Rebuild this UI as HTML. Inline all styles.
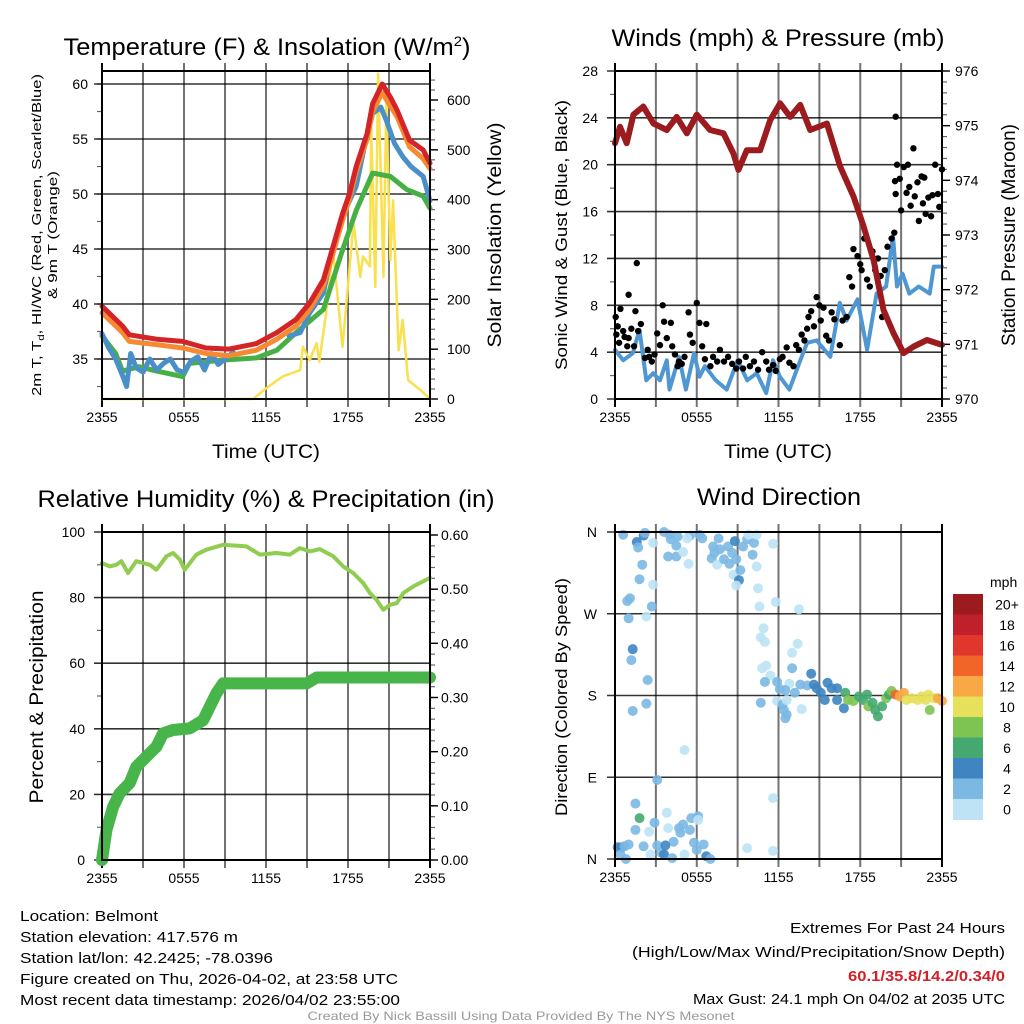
<!DOCTYPE html>
<html><head><meta charset="utf-8"><style>
html,body{margin:0;padding:0;background:#fff;}
svg{display:block;font-family:"Liberation Sans",sans-serif;}
</style></head><body>
<svg id="chart" width="1024" height="1024" viewBox="0 0 1024 1024" xmlns="http://www.w3.org/2000/svg">
<g id="texts">
<text x="267" y="55" font-size="24" text-anchor="middle" textLength="407" lengthAdjust="spacingAndGlyphs">Temperature (F) &amp; Insolation (W/m<tspan dy="-9" font-size="14">2</tspan><tspan dy="9">)</tspan></text>
<text x="778" y="46" font-size="24" text-anchor="middle" textLength="333" lengthAdjust="spacingAndGlyphs">Winds (mph) &amp; Pressure (mb)</text>
<text x="266" y="507" font-size="24" text-anchor="middle" textLength="457" lengthAdjust="spacingAndGlyphs">Relative Humidity (%) &amp; Precipitation (in)</text>
<text x="779" y="505" font-size="24" text-anchor="middle" textLength="164" lengthAdjust="spacingAndGlyphs">Wind Direction</text>
<text x="266" y="458" font-size="19" text-anchor="middle" textLength="108" lengthAdjust="spacingAndGlyphs">Time (UTC)</text>
<text x="778" y="458" font-size="19" text-anchor="middle" textLength="108" lengthAdjust="spacingAndGlyphs">Time (UTC)</text>
<text transform="translate(41,235) rotate(-90)" font-size="13" text-anchor="middle" textLength="322" lengthAdjust="spacingAndGlyphs">2m T, T<tspan font-size="9" dy="3">d</tspan><tspan dy="-3">, HI/WC (Red, Green, Scarlet/Blue)</tspan></text>
<text transform="translate(57,235) rotate(-90)" font-size="13" text-anchor="middle" textLength="128" lengthAdjust="spacingAndGlyphs">&amp; 9m T (Orange)</text>
<text transform="translate(501,235) rotate(-90)" font-size="19" text-anchor="middle" textLength="225" lengthAdjust="spacingAndGlyphs">Solar Insolation (Yellow)</text>
<text transform="translate(567,235) rotate(-90)" font-size="17" text-anchor="middle" textLength="270" lengthAdjust="spacingAndGlyphs">Sonic Wind &amp; Gust (Blue, Black)</text>
<text transform="translate(1015,235) rotate(-90)" font-size="19" text-anchor="middle" textLength="222" lengthAdjust="spacingAndGlyphs">Station Pressure (Maroon)</text>
<text transform="translate(43,697) rotate(-90)" font-size="19" text-anchor="middle" textLength="213" lengthAdjust="spacingAndGlyphs">Percent &amp; Precipitation</text>
<text transform="translate(567,697) rotate(-90)" font-size="17" text-anchor="middle" textLength="238" lengthAdjust="spacingAndGlyphs">Direction (Colored By Speed)</text>
<g font-size="15">
<text x="20" y="921" textLength="138" lengthAdjust="spacingAndGlyphs">Location: Belmont</text>
<text x="20" y="942" textLength="218" lengthAdjust="spacingAndGlyphs">Station elevation: 417.576 m</text>
<text x="20" y="963" textLength="253" lengthAdjust="spacingAndGlyphs">Station lat/lon: 42.2425; -78.0396</text>
<text x="20" y="984" textLength="378" lengthAdjust="spacingAndGlyphs">Figure created on Thu, 2026-04-02, at 23:58 UTC</text>
<text x="20" y="1005" textLength="380" lengthAdjust="spacingAndGlyphs">Most recent data timestamp: 2026/04/02 23:55:00</text>
</g>
<g font-size="15" text-anchor="end">
<text x="1005" y="933" textLength="215" lengthAdjust="spacingAndGlyphs">Extremes For Past 24 Hours</text>
<text x="1005" y="957" textLength="373" lengthAdjust="spacingAndGlyphs">(High/Low/Max Wind/Precipitation/Snow Depth)</text>
<text x="1005" y="981" fill="#d42028" font-weight="bold" textLength="157" lengthAdjust="spacingAndGlyphs">60.1/35.8/14.2/0.34/0</text>
<text x="1005" y="1004" textLength="312" lengthAdjust="spacingAndGlyphs">Max Gust: 24.1 mph On 04/02 at 2035 UTC</text>
</g>
<text x="521" y="1020" font-size="12" fill="#999" text-anchor="middle" textLength="427" lengthAdjust="spacingAndGlyphs">Created By Nick Bassill Using Data Provided By The NYS Mesonet</text>
</g>
</svg>
<script>
// ---------- data ----------
const timeTickLabels = ["2355","0555","1155","1755","2355"];
const tempTicks = [35,40,45,50,55,60];
const solarTicks = [0,100,200,300,400,500,600];
const windTicks = [0,4,8,12,16,20,24,28];
const pressTicks = [970,971,972,973,974,975,976];
const rhTicks = [0,20,40,60,80,100];
const precipTicks = [0,0.1,0.2,0.3,0.4,0.5,0.6];
const dirTicks = [0,90,180,270,360];
const dirTickLabels = ["N","E","S","W","N"];

const tempT = [0,1.5,2,4,5.9,7.6,9.3,11.3,12.8,14.2,15.2,16.2,16.9,17.6,18.1,18.6,19.4,19.8,20.5,21.1,21.6,22.5,23.5,24];
const tempRed = [39.8,38,37.2,36.8,36.6,36,35.9,36.4,37.4,38.6,40.1,42.2,45.2,48.2,50,52.5,55.5,58.2,60,58.8,57.6,54.9,54,52.8];
const tempOrange = [39.2,37.4,36.6,36.3,36,35.5,35.3,35.8,36.8,38,39.5,41.6,44.6,47.6,49.5,52,55,57.5,59.2,58,57,54.3,53.2,52.3];
const dewT = [0,1.0,1.5,2.7,4.0,5.9,6.4,8.8,11.3,12.8,14.2,16.2,17.6,18.6,19.8,21.1,22.3,23.5,24];
const dewGreen = [37.1,35.5,33.9,34.3,33.9,33.4,34.6,34.9,35.1,35.8,37.4,39.5,44.9,48.5,51.9,51.6,50.4,49.8,48.7];
const chillT = [0,0.5,1,1.5,1.8,2.1,2.5,3,3.5,4,4.5,5,5.5,6,6.5,7,7.5,8,8.5,9,9.6,null,13.7,14.5,15.2,16.2,16.9,17.6,18.6,19.3,19.8,20.4,20.8,21.4,22,22.6,23.5,24];
const chillBlue = [37.3,36,35,33.5,32.5,35.5,34.2,33.8,35,34,34.6,35,34,33.8,34.8,35.2,34,35.5,34.5,35,35.6,null,37.1,37.4,39.2,41,45.2,48,50.7,54.9,57.3,57.9,56.7,54.6,53.4,52.5,51.6,49.4];
const solarT = [0,11.05,12.0,13.2,14.5,14.7,15.2,15.7,15.9,16.4,16.9,17.6,18.4,18.9,19.1,19.6,19.7,20.0,20.2,20.6,20.8,21.1,21.3,21.7,22.0,22.4,23.3,24];
const solarW = [0,0,21,45,58,105,78,112,75,172,299,105,352,245,286,266,547,225,653,245,600,279,399,98,159,38,18,0];

const pressT = [0,0.37,0.86,1.35,2.08,2.82,3.8,4.53,5.27,6.0,6.98,7.96,8.69,9.06,9.67,10.65,11.39,12.12,12.86,13.59,14.33,15.55,16.53,17.51,18.25,18.98,19.71,20.45,21.18,21.92,22.9,24];
const pressMb = [974.68,974.98,974.68,975.2,975.35,975.04,974.92,975.16,974.86,975.2,974.92,974.86,974.49,974.19,974.55,974.55,975.1,975.41,975.16,975.38,974.92,975.04,974.25,973.7,973.15,972.54,971.63,971.2,970.84,970.96,971.08,970.99];
const windT = [0,0.6,1.3,1.8,2.3,2.8,3.3,3.8,4.0,4.7,5.2,5.8,6.2,6.6,7.4,8.2,9.0,9.7,10.4,11.1,11.6,12.1,12.8,13.6,14.1,14.8,15.8,16.5,17.0,17.8,18.5,19.2,19.9,20.4,20.7,21.1,21.6,22.3,23.1,23.4,24];
const windSpd = [4.2,3.3,3.9,5.9,1.6,2.2,1.6,3.3,0.8,3.6,0.8,3.9,1.9,2.8,1.6,0.8,3.3,1.6,2.2,0.5,3.3,1.9,0.8,3.3,4.8,5.0,3.6,8.2,6.7,8.5,4.2,9.0,9.6,13.9,9.6,10.7,9.0,9.6,9.0,11.3,11.3];
const gustT = [0.05,0.1,0.2,0.3,0.4,0.6,0.7,0.9,1.0,1.0,1.2,1.4,1.5,1.6,1.7,1.9,2.2,2.4,2.5,2.7,2.9,3.1,3.3,3.5,3.6,3.8,4.1,4.2,4.4,4.6,4.7,4.9,5.1,5.4,5.5,5.7,6.0,6.2,6.4,6.6,6.7,7.0,7.2,7.5,7.7,8.0,8.3,8.6,8.9,9.1,9.4,9.6,9.9,10.2,10.5,10.8,11.1,11.3,11.6,11.8,12.1,12.3,12.6,12.8,13.1,13.3,13.5,13.7,13.9,14.1,14.2,14.4,14.6,14.8,15.0,15.1,15.3,15.5,15.7,15.9,16.1,16.5,16.7,17.0,17.2,17.4,17.5,17.8,18.0,18.1,18.3,18.5,18.7,18.9,19.1,19.3,19.5,19.6,19.8,20.0,20.3,20.5,20.6,20.55,20.6,20.7,20.9,21.0,21.2,21.4,21.5,21.6,21.7,21.9,22.0,22.2,22.3,22.5,22.6,22.7,22.8,23.0,23.2,23.3,23.5,23.7,23.8,24.0];
const gustSpd = [7,5.5,6.2,4.8,7.7,5.8,5.3,4.5,5.2,8.9,6.0,4.5,7.5,11.6,5.8,6.4,3.5,4.2,3.6,3.2,3.8,5.6,4.6,8.0,6.6,5.2,6.5,4.5,3.8,2.8,3.2,3.0,3.6,7.4,5.5,4.8,8.2,6.5,4.5,3.4,6.4,2.8,3.6,3.2,4.2,3.2,3.6,3.0,2.6,3.2,2.6,3.6,2.8,3.2,2.5,4.0,3.2,2.5,2.9,2.4,3.4,3.6,4.4,3.1,2.8,4.6,4.2,5.5,5.0,6.0,7.0,7.5,6.2,8.7,8.0,6.7,7.8,5.4,5.0,7.4,6.8,4.6,6.7,7.0,10.4,9.6,12.8,12.2,11.5,11.0,13.7,10.2,9.6,12.6,11.0,12.0,10.5,7.0,11.0,13.0,13.7,14.2,24.1,18.6,17.5,20.0,18.8,16.1,19.8,17.6,20.0,18.1,16.5,21.4,17.3,18.5,15.2,19.0,16.7,18.9,15.8,17.2,15.6,17.4,20.0,17.5,16.4,19.6];

const rhT = [0,0.56,1.05,1.42,1.9,2.51,3.49,3.98,4.35,4.71,5.2,5.69,6.05,6.91,7.64,8.86,10.57,11.55,12.77,13.75,14.48,15.21,15.94,16.92,17.65,18.38,19.12,19.6,20.09,20.58,21.07,21.56,22.05,22.78,24];
const rhPct = [90.5,89.5,90.0,91.1,87.5,91.1,90.0,88.5,90.5,92.6,93.6,91.6,88.5,93.1,94.6,96.1,95.6,93.1,93.6,93.1,95.1,94.1,94.8,92.6,89.5,87.5,84.4,81.4,79.3,76.3,77.8,78.3,81.4,83.4,86];
const precipT = [0,0.32,0.81,1.29,2.03,2.51,3.49,3.98,4.47,5.2,6.42,7.4,7.89,8.37,8.86,14.97,15.7,24];
const precipIn = [0,0.055,0.098,0.123,0.142,0.172,0.197,0.209,0.234,0.24,0.243,0.258,0.283,0.308,0.326,0.326,0.337,0.337];

const dirT = [0.6,1.6,1.7,2.1,2.2,2.8,2.0,1.8,2.8,0.9,1.1,1.0,2.7,2.3,1.3,1.2,2.4,2.3,1.3,3.6,4.0,4.1,4.5,4.6,3.9,4.5,5.0,5.4,5.5,5.3,6.2,6.4,7.2,7.6,7.3,7.7,7.1,7.5,8.0,8.3,8.6,8.8,8.4,8.9,8.7,9.2,9.1,8.9,9.4,9.7,9.8,10.2,10.1,10.4,10.4,10.5,11.6,10.6,11.8,13.5,
10.9,10.7,11.0,13.4,13.0,10.8,11.1,11.4,11.0,11.9,13.0,12.8,12.1,12.5,13.2,13.6,14.1,14.4,10.7,11.9,12.3,12.6,12.4,12.6,12.5,13.7,
14.6,14.8,15.1,15.4,15.6,15.9,16.3,16.3,16.8,16.9,17.1,17.5,17.9,18.2,18.5,18.6,18.9,19.1,19.3,19.6,19.9,20.1,20.3,20.6,20.9,21.2,21.4,21.8,22.2,22.5,22.8,23.0,23.1,23.4,23.7,24.0,
3.1,5.1,11.6,1.5,1.8,1.5,2.5,2.9,3.8,3.9,4.3,4.8,5.0,4.7,5.6,5.5,5.8,6.1,6.1,6.5,6.7,7.0,6.0,0.2,0.5,0.7,0.4,0.8,2.1,3.1,3.4,3.6,3.7,4.2,5.1,9.7,11.6,2.6,1.0];
const dirDeg = [357,349,343,356,359,348,324,308,302,284,287,265,278,267,231,219,197,171,163,360,357,352,345,355,333,333,338,325,356,353,357,353,344,353,337,341,331,324,330,344,337,350,325,330,313,318,307,301,344,352,357,348,335,357,322,298,347,278,283,275,
254,244,239,237,227,210,213,202,195,195,210,193,187,186,183,192,191,204,172,174,170,175,164,159,155,165,
192,188,183,175,194,188,188,175,166,183,175,174,179,175,181,168,172,164,157,168,177,181,185,181,179,183,175,177,175,179,175,181,164,177,177,174,
87,120,67,61,45,32,30,40,51,34,19,29,38,34,45,32,18,47,43,16,3,0,10,13,13,14,5,0,14,15,7,5,15,1,5,12,9,5,16];
const dirSpd = [3,5,3,5,3,1,3,3,1,3,3,3,3,1,5,3,3,3,3,3,3,3,3,3,3,3,1,1,3,1,3,3,3,3,3,3,3,1,3,3,3,5,3,3,1,3,5,1,3,3,1,3,3,1,1,1,1,1,1,1,
1,1,1,1,1,1,1,1,3,3,3,1,3,3,3,3,3,5,3,1,3,1,3,3,3,1,
5,5,5,5,5,5,5,5,5,7,9,9,7,7,7,9,7,7,7,7,9,7,9,15,13,13,11,11,11,11,11,11,9,11,13,13,
3,1,1,3,7,3,1,3,1,1,3,3,3,3,3,3,3,3,1,3,5,3,3,5,5,3,3,3,3,3,3,5,5,3,1,1,1,1,3];

const speedLabels = ["20+","18","16","14","12","10","8","6","4","2","0"];
const speedColors = ["#9b1b1e","#c0202a","#e0362b","#f26529","#f8a845","#e6e05a","#7dc453","#44a870","#3e85c2","#7bb8e3","#bde3f5"];

// ---------- helpers ----------
const NS = "http://www.w3.org/2000/svg";
const svg = document.getElementById("chart");
function el(tag, attrs, parent) {
  const e = document.createElementNS(NS, tag);
  for (const k in attrs) e.setAttribute(k, attrs[k]);
  (parent || svg).appendChild(e);
  return e;
}
function lin(d0, d1, r0, r1) { return v => r0 + (v - d0) / (d1 - d0) * (r1 - r0); }
function pathFrom(xs, ys, sx, sy) {
  let d = "", pen = false;
  for (let i = 0; i < xs.length; i++) {
    if (xs[i] === null || ys[i] === null) { pen = false; continue; }
    d += (pen ? "L" : "M") + sx(xs[i]).toFixed(1) + "," + sy(ys[i]).toFixed(1);
    pen = true;
  }
  return d;
}

function panel(name, L, R, T, B) {
  const g = el("g", {});
  
  
  const sx = lin(0, 24, L, R);
  for (let h = 0; h <= 24; h += 3) {
    const ln = el("line", {x1: sx(h), x2: sx(h), y1: T - 8, y2: B + 8, stroke: "#000", "stroke-opacity": h % 24 === 0 ? 1 : 0.55, "stroke-width": 2}, g);
    
    
  }
  for (let i = 0; i < timeTickLabels.length; i++) {
    const t = el("text", {x: sx(i * 6), y: B + 23, "font-size": 14, "text-anchor": "middle"}, g);
    
    
    t.textContent = timeTickLabels[i];
  }
  return {g, sx};
}
function hgrid(g, ticks, sy, L, R, labels, lx, anchor) {
  ticks.forEach((v, i) => {
    const ln = el("line", {x1: L - 8, x2: R, y1: sy(v), y2: sy(v), stroke: "#000", "stroke-opacity": 0.8, "stroke-width": 1.6}, g);
    
    
    const t = el("text", {x: lx, y: sy(v) + 5, "font-size": 14, "text-anchor": anchor}, g);
    
    
    t.textContent = labels ? labels[i] : v;
  });
}
function minorTicks(g, from, to, step, sy, x, dir, len) {
  for (let v = from; v <= to + 1e-9; v += step) {
    const ln = el("line", {x1: x, x2: x + dir * len, y1: sy(v), y2: sy(v), stroke: "#000", "stroke-opacity": 0.6, "stroke-width": 1.2}, g);
    
    
  }
}
function rightAxis(g, ticks, sy, R, fmt, lx) {
  ticks.forEach(v => {
    const ln = el("line", {x1: R, x2: R + 8, y1: sy(v), y2: sy(v), stroke: "#000", "stroke-width": 1.4}, g);
    
    
    const t = el("text", {x: lx, y: sy(v) + 5, "font-size": 14}, g);
    
    
    t.textContent = fmt(v);
  });
}
function frame(g, L, R, T, B) {
  const f = el("rect", {x: L, y: T, width: R - L, height: B - T, fill: "none", stroke: "#000", "stroke-width": 2}, g);
  
  
}
function line(g, name, xs, ys, sx, sy, color, w) {
  const p = el("path", {d: pathFrom(xs, ys, sx, sy), fill: "none", stroke: color, "stroke-width": w, "stroke-linejoin": "round", "stroke-linecap": "round"}, g);
  
  
}

// ---------- Panel 1: temperature ----------
{
  const L = 102, R = 430, T = 71, B = 399;
  const {g, sx} = panel("temperature-panel", L, R, T, B);
  const sy = lin(35, 60, 359, 84);
  const sw = lin(0, 600, 399, 100);
  minorTicks(g, 32.5, 60, 2.5, sy, L, -1, 5);
  hgrid(g, tempTicks, sy, L, R, null, 88, "end");
  minorTicks(g, 0, 640, 20, sw, R, 1, 5);
  rightAxis(g, solarTicks, sw, R, v => v, 447);
  line(g, "solar-insolation-line", solarT, solarW, sx, sw, "#f8e04e", 2.5);
  line(g, "dewpoint-line", dewT, dewGreen, sx, sy, "#47b045", 5);
  line(g, "windchill-line", chillT, chillBlue, sx, sy, "#4a90c8", 5);
  line(g, "temp-9m-line", tempT, tempOrange, sx, sy, "#f58a33", 5);
  line(g, "temp-2m-line", tempT, tempRed, sx, sy, "#d52428", 5);
  frame(g, L, R, T, B);
}
// ---------- Panel 2: winds ----------
{
  const L = 615, R = 942, T = 71, B = 399;
  const {g, sx} = panel("winds-panel", L, R, T, B);
  const sy = lin(0, 28, 399, 71);
  const sp = lin(970, 976, 399, 71);
  minorTicks(g, 2, 26, 4, sy, L, -1, 5);
  hgrid(g, windTicks, sy, L, R, null, 598, "end");
  minorTicks(g, 970, 976, 0.2, sp, R, 1, 5);
  rightAxis(g, pressTicks, sp, R, v => v, 955);
  line(g, "sonic-wind-line", windT, windSpd, sx, sy, "#4f97d2", 4);
  const dg = el("g", {}, g);
  
  
  gustT.forEach((t, i) => {
    const c = el("circle", {cx: sx(t), cy: sy(gustSpd[i]), r: 3.2, fill: "#000"}, dg);
    
    
  });
  line(g, "pressure-line", pressT, pressMb, sx, sp, "#9b1b1e", 6);
  frame(g, L, R, T, B);
}
// ---------- Panel 3: humidity ----------
{
  const L = 102, R = 430, T = 532, B = 860;
  const {g, sx} = panel("humidity-panel", L, R, T, B);
  const sy = lin(0, 100, 860, 532);
  const sp = lin(0, 0.6, 860, 535);
  minorTicks(g, 10, 90, 20, sy, L, -1, 5);
  hgrid(g, rhTicks, sy, L, R, null, 85, "end");
  minorTicks(g, 0, 0.6, 0.02, sp, R, 1, 5);
  rightAxis(g, precipTicks, sp, R, v => v.toFixed(2), 441);
  line(g, "relative-humidity-line", rhT, rhPct, sx, sy, "#8fcc4f", 4);
  line(g, "precipitation-line", precipT, precipIn, sx, sp, "#47b549", 12);
  frame(g, L, R, T, B);
}
// ---------- Panel 4: wind direction ----------
{
  const L = 615, R = 942, T = 532, B = 859;
  const {g, sx} = panel("wind-direction-panel", L, R, T, B);
  const sy = lin(0, 360, 859, 532);
  hgrid(g, dirTicks, sy, L, R, dirTickLabels, 597, "end");
  const dg = el("g", {}, g);
  
  
  dirT.forEach((t, i) => {
    const idx = Math.min(10, Math.floor(dirSpd[i] / 2));
    const c = el("circle", {cx: sx(t), cy: sy(dirDeg[i]), r: 5, fill: speedColors[10 - idx], "fill-opacity": 0.9}, dg);
    
    
  });
  frame(g, L, R, T, B);
  const cb = el("g", {}, svg);
  
  
  const title = el("text", {x: 990, y: 587, "font-size": 14}, cb);
  
  
  title.textContent = "mph";
  const cellH = 20.5;
  speedLabels.forEach((lab, i) => {
    const r = el("rect", {x: 953, y: 594 + i * cellH, width: 30, height: cellH + 0.5, fill: speedColors[i]}, cb);
    
    
    const t = el("text", {x: 1007, y: 594 + i * cellH + cellH / 2 + 5, "font-size": 14, "text-anchor": "middle"}, cb);
    
    
    t.textContent = lab;
  });
}
</script>
</body></html>
